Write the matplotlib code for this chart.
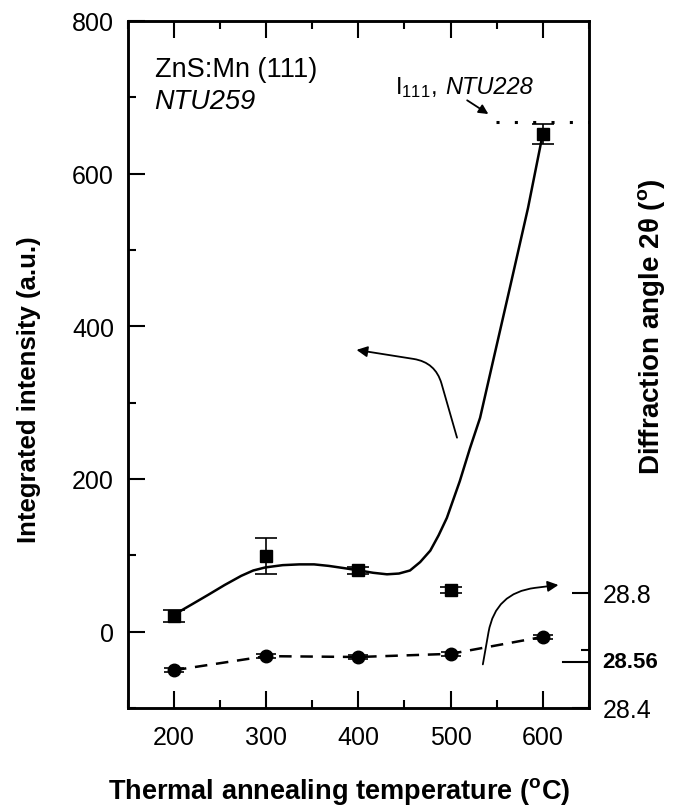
import matplotlib
matplotlib.use('Agg')
import matplotlib.pyplot as plt
from matplotlib.patches import FancyArrowPatch
from matplotlib.ticker import MultipleLocator, FixedLocator
from matplotlib.offsetbox import TextArea, HPacker, AnchoredOffsetbox

plt.rcParams['font.family'] = ['Liberation Sans', 'DejaVu Sans']
plt.rcParams['mathtext.fontset'] = 'custom'
plt.rcParams['mathtext.rm'] = 'Liberation Sans'
plt.rcParams['mathtext.it'] = 'Liberation Sans:italic'
plt.rcParams['mathtext.bf'] = 'Liberation Sans:bold'

# integrated intensity, NTU259
temps = [200, 300, 400, 500, 600]
intensity = [20, 99, 80, 55, 652]
intensity_err = [8, 23, 4, 4, 13]

# smooth guide line
fit_x = [200, 220, 237, 255, 273, 286, 299, 318, 336, 352, 368, 385, 401,
         416, 431, 444, 456, 467, 478, 487, 496, 510, 521, 532, 546, 565,
         584, 600]
fit_y = [22, 36, 48, 61, 73, 80, 84, 87, 88, 88, 86, 83, 80,
         77, 75, 76, 80, 91, 106, 126, 149, 197, 240, 280, 354, 454,
         555, 652]

# diffraction angle 2theta (right axis)
angle = [28.531, 28.580, 28.577, 28.588, 28.647]
angle_err = [0.006, 0.006, 0.006, 0.006, 0.006]

ntu228_level = 668
ref_angle = 28.56

fig = plt.figure(figsize=(6.8, 8.12), dpi=100)
ax = fig.add_axes([0.188, 0.127, 0.678, 0.846])

ax.plot(fit_x, fit_y, color='black', lw=1.8, solid_joinstyle='round')
ax.errorbar(temps, intensity, yerr=intensity_err, fmt='s', color='black',
            ms=8.5, capsize=8, elinewidth=1.2, capthick=1.2)
ax.plot([549, 650], [ntu228_level, ntu228_level], color='black', lw=2.2,
        linestyle=(0, (1, 5)))

ax.set_xlim(150, 650)
ax.set_ylim(-100, 800)
ax.xaxis.set_major_locator(MultipleLocator(100))
ax.xaxis.set_minor_locator(MultipleLocator(50))
ax.yaxis.set_major_locator(MultipleLocator(200))
ax.yaxis.set_minor_locator(MultipleLocator(100))
ax.tick_params(which='both', direction='in', top=True, right=False, width=1.5)
ax.tick_params(which='major', length=12, labelsize=18)
ax.tick_params(axis='x', which='major', pad=12)
ax.tick_params(axis='y', which='major', pad=10)
ax.tick_params(which='minor', length=6)
for s in ax.spines.values():
    s.set_linewidth(1.8)

ax.set_xlabel(r'Thermal annealing temperature ($^{\mathbf{o}}$C)',
              fontsize=19.5, fontweight='bold')
ax.xaxis.set_label_coords(0.458, -0.098)
ax.set_ylabel('Integrated intensity (a.u.)', fontsize=18.5, fontweight='bold')
ax.yaxis.set_label_coords(-0.188, 0.464)

ax.text(0.058, 0.93, 'ZnS:Mn (111)', transform=ax.transAxes, fontsize=19.5,
        va='center')
ax.text(0.058, 0.884, 'NTU259', transform=ax.transAxes, fontsize=19.5,
        va='center', style='italic')

# "I111, NTU228" label with italic sample name
lbl = HPacker(children=[TextArea(r'I$_{111}$,', textprops=dict(fontsize=17)),
                        TextArea('NTU228', textprops=dict(fontsize=17, style='italic'))],
              align='baseline', pad=0, sep=6)
box = AnchoredOffsetbox(loc='center left', child=lbl, pad=0, borderpad=0,
                        frameon=False, bbox_to_anchor=(0.58, 0.905),
                        bbox_transform=ax.transAxes)
ax.add_artist(box)
ax.annotate('', xy=(541, 678), xytext=(518, 696),
            arrowprops=dict(arrowstyle='-|>', color='black', lw=1.3,
                            mutation_scale=14, shrinkA=0, shrinkB=0))

ax.add_patch(FancyArrowPatch((507, 254), (398, 369),
                             connectionstyle='angle,angleA=106,angleB=171,rad=22',
                             arrowstyle='-|>', mutation_scale=16,
                             shrinkA=0, shrinkB=0,
                             color='black', lw=1.3))
ax.add_patch(FancyArrowPatch((535, -43), (617, 61),
                             connectionstyle='angle,angleA=80,angleB=7,rad=40',
                             arrowstyle='-|>', mutation_scale=16,
                             shrinkA=0, shrinkB=0,
                             color='black', lw=1.3))

# right axis: diffraction angle
ax2 = ax.twinx()
ax2.plot(temps, angle, color='black', lw=1.8, linestyle=(0, (5, 3.5)))
ax2.errorbar(temps, angle, yerr=angle_err, fmt='o', color='black', ms=9,
             capsize=7, elinewidth=1.2, capthick=1.2)
ax2.set_ylim(28.4, 30.79)
ax2.yaxis.set_major_locator(FixedLocator([28.4, 28.8]))
ax2.yaxis.set_minor_locator(FixedLocator([28.6]))
ax2.set_yticklabels(['28.4', '28.8'])
ax2.tick_params(which='both', direction='in', width=1.5)
ax2.tick_params(which='major', length=12, labelsize=18, pad=10)
ax2.tick_params(which='minor', length=6)
ax2.plot([622, 650], [ref_angle, ref_angle], color='black', lw=1.5)
ax2.text(1.03, (ref_angle - 28.4) / (30.79 - 28.4), '%.2f' % ref_angle,
         transform=ax2.transAxes, fontsize=16, fontweight='bold', va='center')
ax2.text(1.135, 0.556, r'Diffraction angle 2θ ($^{\mathbf{o}}$)',
         transform=ax2.transAxes, fontsize=20, fontweight='bold',
         rotation=90, ha='center', va='center')
for s in ax2.spines.values():
    s.set_linewidth(1.8)

fig.savefig('out.png', dpi=100)
